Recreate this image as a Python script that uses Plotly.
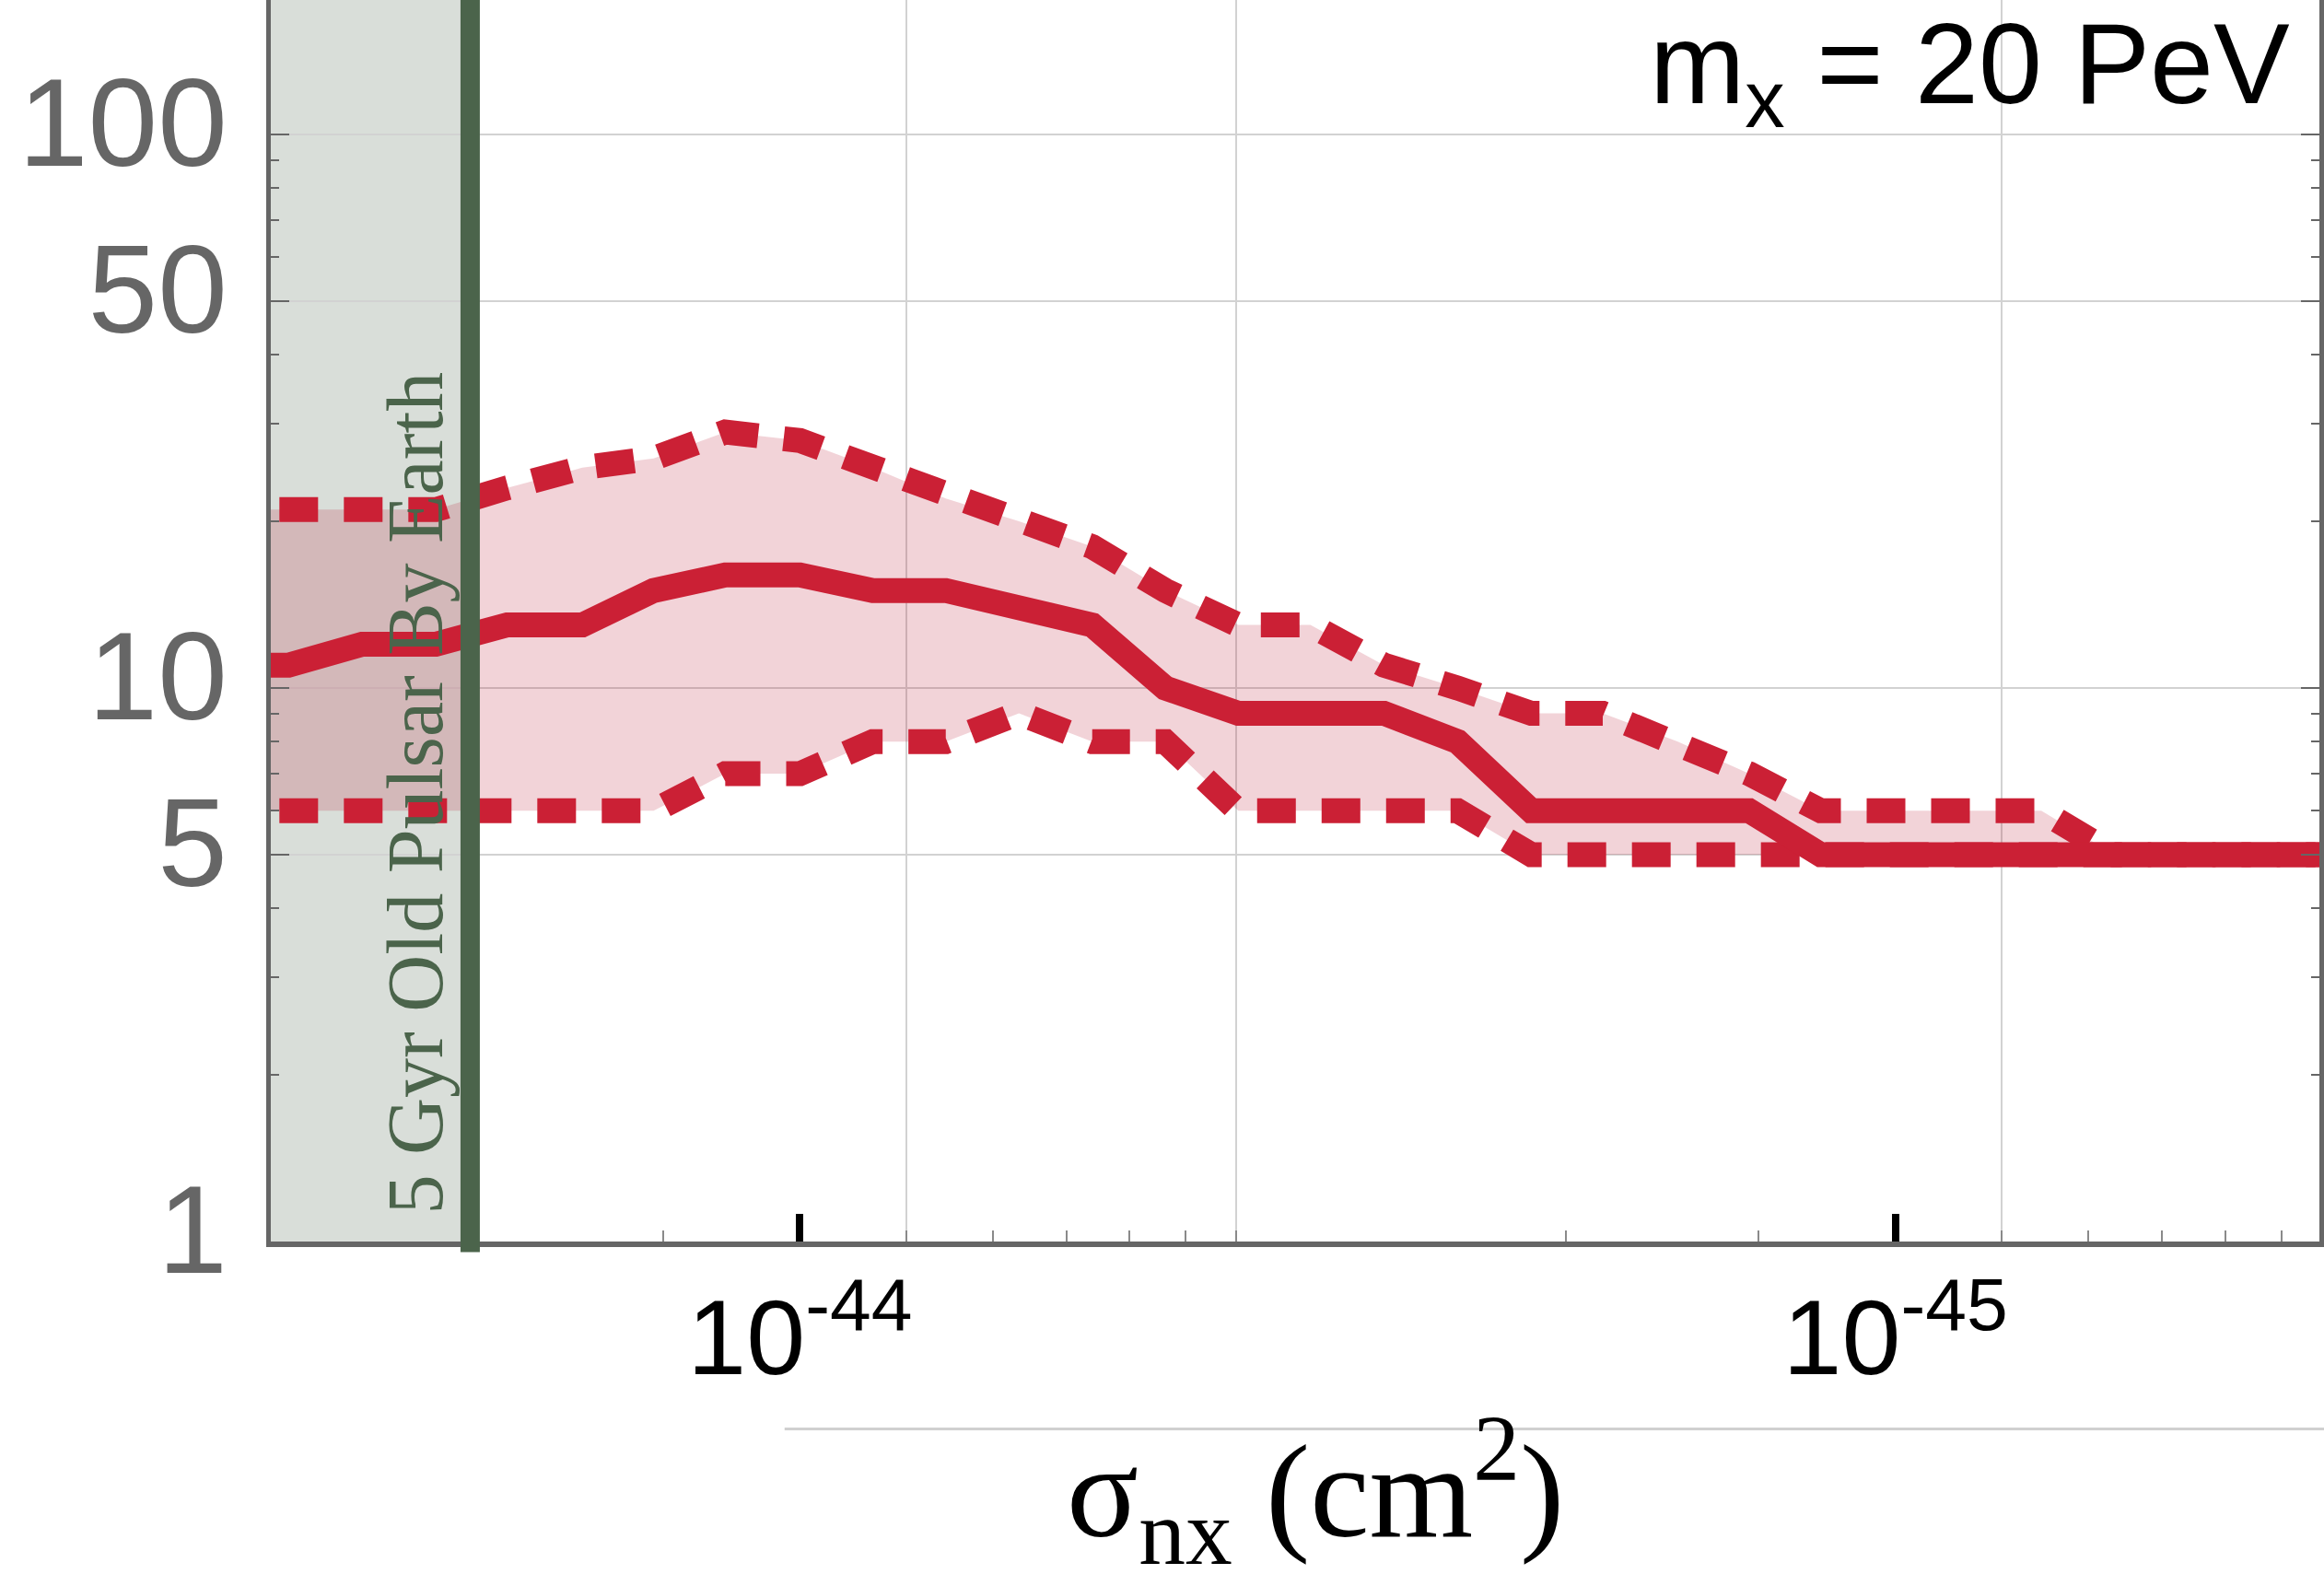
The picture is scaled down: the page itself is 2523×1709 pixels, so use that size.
import plotly.graph_objects as go

# ---------------- data ----------------
# cross-section sample points (cm^2); axis runs from large (left) to small (right)
sigma = [3.42e-44, 2.93e-44, 2.51e-44, 2.15e-44, 1.85e-44, 1.58e-44, 1.36e-44,
         1.17e-44, 1.00e-44, 8.58e-45, 7.36e-45, 6.31e-45, 5.41e-45, 4.64e-45,
         3.98e-45, 3.42e-45, 2.93e-45, 2.51e-45, 2.15e-45, 1.85e-45, 1.58e-45,
         1.36e-45, 1.17e-45, 1.00e-45, 8.58e-46, 7.36e-46, 6.31e-46, 5.41e-46,
         4.64e-46, 3.98e-46]
median = [11, 11, 12, 12, 13, 13, 15, 16, 16, 15, 15, 14, 13, 10, 9, 9, 9, 8,
          6, 6, 6, 6, 5, 5, 5, 5, 5, 5, 5, 5]
upper = [21, 21, 21, 21, 23, 25, 26, 29, 28, 25, 22, 20, 18, 15, 13, 13, 11, 10,
         9, 9, 8, 7, 6, 6, 6, 6, 5, 5, 5, 5]
lower = [6, 6, 6, 6, 6, 6, 6, 7, 7, 8, 8, 9, 8, 8, 6, 6, 6, 6,
         5, 5, 5, 5, 5, 5, 5, 5, 5, 5, 5, 5]

# x axis: labelled ticks, grid lines, minor ticks
x_label_vals = [1e-44, 1e-45]
x_label_text = ["10<sup>-44</sup>", "10<sup>-45</sup>"]
x_grid_vals = [8e-45, 4e-45, 8e-46]
x_minor_vals = [1.333e-44, 6.667e-45, 5.714e-45, 5e-45, 4.444e-45, 2e-45,
                1.333e-45, 6.667e-46, 5.714e-46, 5e-46, 4.444e-46]
x_log_range = [-43.517, -45.387]

# y axis
y_tick_vals = [1, 5, 10, 50, 100]
y_tick_text = ["1", "5", "10", "50", "100"]
y_minor_vals = [2, 3, 4, 6, 7, 8, 9, 20, 30, 40, 60, 70, 80, 90, 200]
y_log_range = [0, 2.243]

# excluded region boundary
pulsar_sigma = 2e-44
pulsar_label = "5 Gyr Old Pulsar By Earth"
mass_label = "m<sub>x</sub> = 20 PeV"
x_title = "σ<sub>nx</sub> (cm<sup>2</sup>)"

# ---------------- styles ----------------
RED = "#cb2035"
FILL = "rgba(185,12,40,0.18)"
GREEN = "#4b644b"
GREEN_FILL = "rgba(75,100,75,0.21)"
GRID = "#d2d2d2"
AXIS = "#666666"
W, H = 2523, 1709
ML, MR, MT, MB = 294, 0, 0, 361

fig = go.Figure()
fig.add_trace(go.Scatter(x=sigma, y=lower, mode="lines", line=dict(width=0, color=RED),
                         showlegend=False, hoverinfo="skip"))
fig.add_trace(go.Scatter(x=sigma, y=upper, mode="lines", line=dict(width=0, color=RED),
                         fill="tonexty", fillcolor=FILL, showlegend=False, hoverinfo="skip"))
fig.add_trace(go.Scatter(x=sigma, y=lower, mode="lines",
                         line=dict(width=27, color=RED, dash="42px,28px"), showlegend=False))
fig.add_trace(go.Scatter(x=sigma, y=upper, mode="lines",
                         line=dict(width=27, color=RED, dash="42px,28px"), showlegend=False))
fig.add_trace(go.Scatter(x=sigma, y=median, mode="lines",
                         line=dict(width=27, color=RED), showlegend=False))
# invisible carrier for the labelled overlay axis
fig.add_trace(go.Scatter(x=x_label_vals, y=[1, 1], xaxis="x2", mode="markers",
                         marker=dict(opacity=0), showlegend=False, hoverinfo="skip"))

fig.update_layout(
    width=W, height=H,
    margin=dict(l=ML, r=MR, t=MT, b=MB, pad=0),
    paper_bgcolor="white", plot_bgcolor="white",
    showlegend=False,
    xaxis=dict(type="log", range=x_log_range, showline=True, linecolor=AXIS, linewidth=6,
               ticks="inside", tickmode="array", tickvals=x_grid_vals, ticklen=12,
               tickwidth=2, tickcolor="#8a8a8a", showticklabels=False,
               showgrid=True, gridcolor=GRID, gridwidth=2, zeroline=False,
               minor=dict(tickmode="array", tickvals=x_minor_vals, ticks="inside",
                          ticklen=12, tickwidth=2, tickcolor="#8a8a8a", showgrid=False)),
    xaxis2=dict(type="log", range=x_log_range, overlaying="x", anchor="y", side="bottom",
                showline=False, showgrid=False, zeroline=False,
                ticks="inside", tickmode="array", tickvals=x_label_vals, ticktext=x_label_text,
                ticklen=30, tickwidth=8, tickcolor="black",
                tickfont=dict(family="Liberation Sans, Arial, sans-serif", size=115, color="black"),
                ticklabelstandoff=28),
    yaxis=dict(type="log", range=y_log_range, showline=True, linecolor=AXIS, linewidth=5,
               mirror="ticks", ticks="inside", tickmode="array", tickvals=y_tick_vals,
               ticktext=y_tick_text, ticklen=20, tickwidth=2, tickcolor=AXIS,
               tickfont=dict(family="Liberation Sans, Arial, sans-serif", size=136, color=AXIS),
               ticklabelshift=-14, ticklabelstandoff=15,
               showgrid=True, gridcolor=GRID, gridwidth=2, zeroline=False,
               minor=dict(tickmode="array", tickvals=y_minor_vals, ticks="inside",
                          ticklen=9, tickwidth=2, tickcolor=AXIS, showgrid=False)),
)

# shaded excluded band and its boundary line
fig.add_shape(type="rect", xref="x", yref="paper", x0=10 ** x_log_range[0], x1=pulsar_sigma,
              y0=0, y1=1, fillcolor=GREEN_FILL, line=dict(width=0), layer="below")
fig.add_shape(type="line", xref="x", yref="paper", x0=pulsar_sigma, x1=pulsar_sigma,
              y0=-0.0085, y1=1.01, line=dict(color=GREEN, width=21), layer="above")
# thin rule above the axis title
fig.add_shape(type="line", xref="paper", yref="paper", x0=0.2508, x1=1.01, y0=-0.151, y1=-0.151,
              line=dict(color="#d0d0d0", width=3), layer="above")

fig.add_annotation(text=pulsar_label, xref="paper", yref="paper", x=0.0704, y=0.3613,
                   xanchor="center", yanchor="middle", textangle=-90, showarrow=False,
                   font=dict(family="Liberation Serif, Times New Roman, serif", size=86, color=GREEN))
fig.add_annotation(text=mass_label, xref="paper", yref="paper", x=1, y=1,
                   xanchor="right", yanchor="top", xshift=-30, yshift=2, showarrow=False,
                   font=dict(family="Liberation Sans, Arial, sans-serif", size=124, color="black"))
fig.add_annotation(text=x_title, xref="paper", yref="paper", x=0.5101, y=-0.201,
                   xanchor="center", yanchor="middle", showarrow=False,
                   font=dict(family="Liberation Serif, Times New Roman, serif", size=145, color="black"))

fig.write_html("out.html", config={"displayModeBar": False},
               post_script="document.body.style.margin='0px';document.body.style.overflow='hidden';")
